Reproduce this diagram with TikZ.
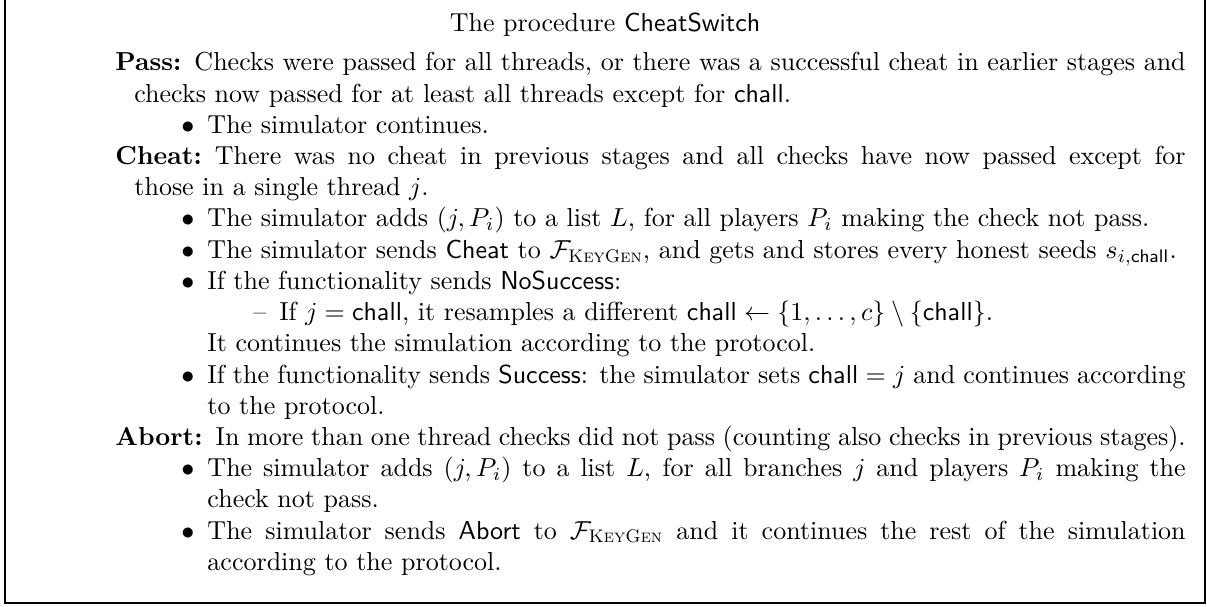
\documentclass[tikz,border=0pt]{standalone}
\usepackage{amsmath}
\usepackage{tikz}
\newcommand{\chall}{\mathsf{chall}}
\newcommand{\FKG}{\mathcal{F}_{\textsc{KeyGen}}}
% one paragraph per list level (label, bullet, dash, continued text)
\newcommand{\descpar}[2]{{\hangindent=7.3pt\hangafter=1\noindent\textbf{#1}\hskip5pt #2\par}}
\newcommand{\bulpar}[1]{{\leftskip=35.4pt\noindent\llap{$\bullet$\hskip5pt}#1\par}}
\newcommand{\dashpar}[1]{{\leftskip=63pt\noindent\llap{\textendash\hskip5pt}#1\par}}
\newcommand{\contpar}[1]{{\leftskip=35.4pt\noindent #1\par}}

\begin{document}
\begin{tikzpicture}[x=1pt,y=1pt,
    frame/.style={draw=black,line width=0.6pt},
    bodytext/.style={inner sep=0pt,anchor=base west}]
  % page: 1207x606 px at about 2.6 px per pt
  \useasboundingbox (0,0) rectangle (464.2,-233.1);
  % top edge lies above the page, as in the cut-out
  \draw[frame] (1.9,6) rectangle (463.5,-231.9);
  % title, centred in the frame
  \node[inner sep=0pt,anchor=base] (title) at (232.7,-12.3)
    {The procedure \textsf{CheatSwitch}};
  % the three cases
  \node[bodytext] (body) at (44.2,-27.3) {\begin{minipage}[t]{411.6pt}
    \hyphenpenalty=10000
    \descpar{Pass:}{Checks were passed for all threads, or there was a successful cheat in earlier stages and checks now passed for at least all threads except for $\chall$.}
    \bulpar{The simulator continues.}
    \descpar{Cheat:}{There was no cheat in previous stages and all checks have now passed except for\linebreak those in a single thread $j$.}
    \bulpar{The simulator adds $(j,P_i)$ to a list $L$, for all players $P_i$ making the check not pass.}
    \bulpar{The simulator sends $\textsf{Cheat}$ to $\FKG$, and gets and stores every honest seeds $s_{i,\chall}$.}
    \bulpar{If the functionality sends \textsf{NoSuccess}:}
    \dashpar{If $j=\chall$, it resamples a different $\chall\leftarrow\{1,\dots,c\}\setminus\{\chall\}$.}
    \contpar{It continues the simulation according to the protocol.}
    \bulpar{If the functionality sends \textsf{Success}: the simulator sets $\chall=j$ and continues according to the protocol.}
    \descpar{Abort:}{In more than one thread checks did not pass (counting also checks in previous stages).}
    \bulpar{The simulator adds $(j,P_i)$ to a list $L$, for all branches $j$ and players $P_i$ making the check not pass.}
    \bulpar{The simulator sends \textsf{Abort} to $\FKG$ and it continues the rest of the simulation\linebreak according to the protocol.}
  \end{minipage}};
\end{tikzpicture}
\end{document}
